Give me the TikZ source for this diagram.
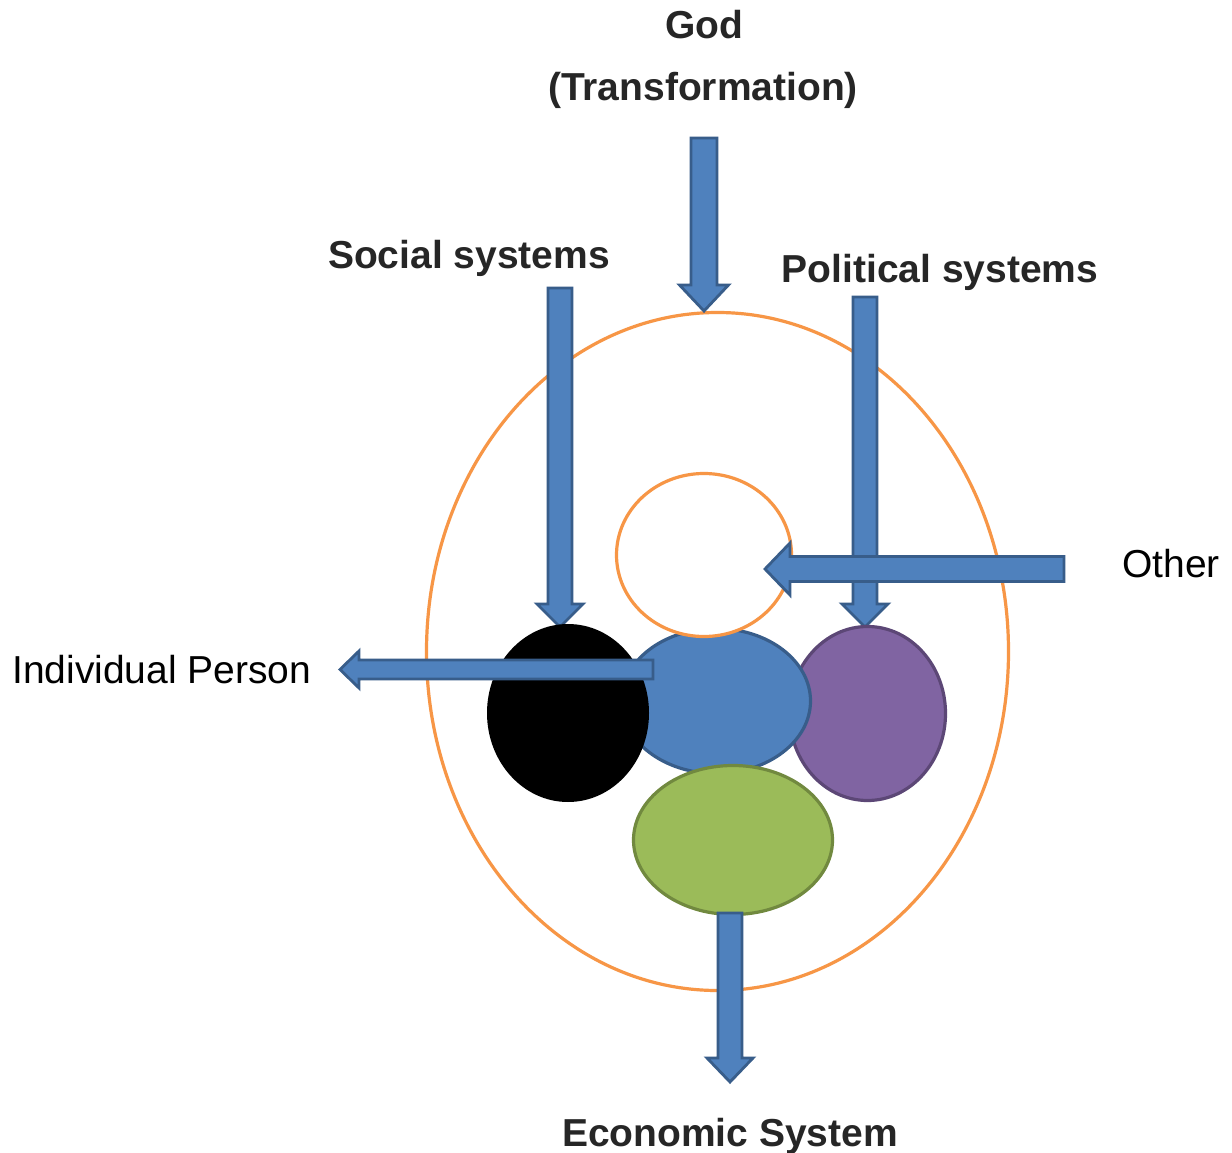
\documentclass[tikz,border=0pt]{standalone}
\usepackage{fontspec}
\setmainfont{Liberation Sans}
\usetikzlibrary{shapes.geometric,calc}
\definecolor{arrowfill}{HTML}{4F81BD}
\definecolor{arrowline}{HTML}{385D8A}
\definecolor{orangeline}{HTML}{F79646}
\definecolor{purplefill}{HTML}{8064A2}
\definecolor{purpleline}{HTML}{5C4776}
\definecolor{greenfill}{HTML}{9BBB59}
\definecolor{greenline}{HTML}{71893F}
\definecolor{labelgray}{HTML}{262626}
\tikzset{
  blockarrow/.style={fill=arrowfill, draw=arrowline, line width=2.8pt, line join=miter},
  blob/.style={ellipse, inner sep=0pt, outer sep=0pt, line width=3.2pt},
  boldlabel/.style={font=\fontsize{39}{45}\selectfont\bfseries, text=labelgray, inner sep=0pt, anchor=base},
  plainlabel/.style={font=\fontsize{39}{45}\selectfont, text=black, inner sep=0pt, anchor=base}
}
% #1 start, #2 tip, #3 shaft half width, #4 head half width, #5 head length
\newcommand{\blockarr}[5]{%
  \coordinate (hb) at ($(#2)!#5!(#1)$);
  \draw[blockarrow] ($(#1)!#3!90:(#2)$) -- ($(hb)!#3!-90:(#1)$) -- ($(hb)!#4!-90:(#1)$)
    -- (#2) -- ($(hb)!#4!90:(#1)$) -- ($(hb)!#3!90:(#1)$) -- ($(#1)!#3!-90:(#2)$) -- cycle;}
\begin{document}
\begin{tikzpicture}[x=1pt,y=-1pt]
\useasboundingbox (0,0) rectangle (1232,1153);
\fill[white] (0,0) rectangle (1232,1153);
% labels
\node[boldlabel] (god) at (704,39) {God};
\node[boldlabel] (trans) at (703,101) {(Transformation)};
\node[boldlabel] (social) at (469,268) {Social systems};
\node[boldlabel] (political) at (940,282) {Political systems};
\node[plainlabel, anchor=base west] (other) at (1122,577) {Other};
\node[plainlabel, anchor=base west] (indiv) at (12,683) {Individual Person};
\node[boldlabel] (econ) at (730,1146) {Economic System};
% big orange ellipse
\node[blob, draw=orangeline, minimum width=582pt, minimum height=678pt] (outer) at (717.5,651.5) {};
% arrow end points
\coordinate (godS) at (704,138);
\coordinate (godT) at (704,311);
\coordinate (socS) at (560,288);
\coordinate (socT) at (560,627);
\coordinate (polS) at (865,297);
\coordinate (polT) at (865,627);
\coordinate (othS) at (1064,569);
\coordinate (othT) at (765,569);
\coordinate (indS) at (653,669.5);
\coordinate (indT) at (340,669.5);
\coordinate (ecoS) at (730,913);
\coordinate (ecoT) at (730,1082);
\blockarr{godS}{godT}{13pt}{24.5pt}{26pt}
\blockarr{socS}{socT}{12pt}{23pt}{23pt}
\blockarr{polS}{polT}{12pt}{23pt}{23pt}
% inner ellipses
\node[blob, fill=purplefill, draw=purpleline, minimum width=156pt, minimum height=174pt] (purple) at (867.5,713.5) {};
\node[blob, fill=arrowfill, draw=arrowline, minimum width=189pt, minimum height=145pt] (blue) at (716,701) {};
\node[blob, fill=black, minimum width=162pt, minimum height=178pt] (black) at (568,713) {};
\node[blob, fill=greenfill, draw=greenline, minimum width=199pt, minimum height=149pt] (green) at (733,840) {};
\node[blob, fill=white, draw=orangeline, minimum width=175pt, minimum height=163pt] (self) at (704,555) {};
\blockarr{othS}{othT}{12.5pt}{26pt}{25pt}
\blockarr{indS}{indT}{9.5pt}{18.5pt}{19pt}
\blockarr{ecoS}{ecoT}{12pt}{23pt}{24pt}
\end{tikzpicture}
\end{document}
